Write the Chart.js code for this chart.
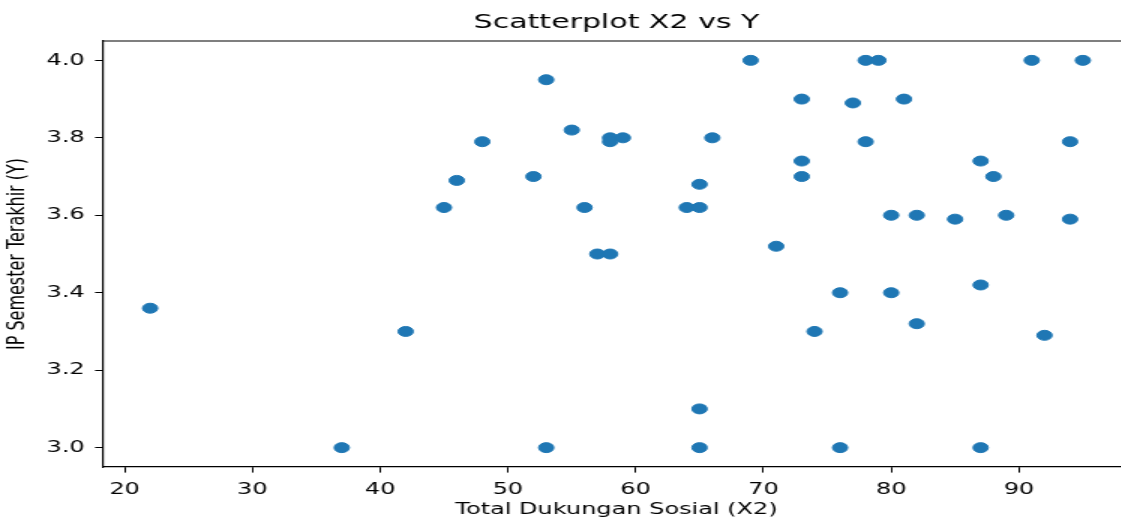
<!DOCTYPE html>
<html>
<head>
<meta charset="utf-8">
<script src="https://cdn.jsdelivr.net/npm/chart.js@4/dist/chart.umd.min.js"></script>
<style>
  html, body { margin: 0; padding: 0; background: #fff; overflow: hidden; width: 1121px; height: 520px; }
  #wrap { width: 759px; height: 520px; transform: scaleX(1.5); transform-origin: 0 0; }
  canvas { display: block; }
</style>
</head>
<body>
<div id="wrap"><canvas id="c" width="759" height="520"></canvas></div>
<script>
const xValues = [22,37,42,45,46,48,52,53,53,55,56,57,58,58,58,59,64,65,65,65,65,66,69,71,73,73,73,74,76,76,77,78,78,79,80,80,81,82,82,85,87,87,87,88,89,91,92,94,94,95];
const yValues = [3.36,3.00,3.30,3.62,3.69,3.79,3.70,3.95,3.00,3.82,3.62,3.50,3.50,3.80,3.79,3.80,3.62,3.62,3.68,3.10,3.00,3.80,4.00,3.52,3.90,3.74,3.70,3.30,3.40,3.00,3.89,4.00,3.79,4.00,3.60,3.40,3.90,3.60,3.32,3.59,3.74,3.42,3.00,3.70,3.60,4.00,3.29,3.79,3.59,4.00];
const xTicks = [20,30,40,50,60,70,80,90];
const yTicks = [3.0,3.2,3.4,3.6,3.8,4.0];
const titleText = 'Scatterplot X2 vs Y';
const xLabel = 'Total Dukungan Sosial (X2)';
const yLabel = 'IP Semester Terakhir (Y)';

// matplotlib-like 5% axis margins
function padRange(arr) {
  const lo = Math.min(...arr), hi = Math.max(...arr), m = (hi - lo) * 0.05;
  return [lo - m, hi + m];
}
const [xMin, xMax] = padRange(xValues);
const [yMin, yMax] = padRange(yValues);

const points = xValues.map((x, i) => ({ x: x, y: yValues[i] }));
const FONT = 'DejaVu Sans';

const frame = {
  id: 'frame',
  afterDraw(chart) {
    const { ctx, chartArea: a } = chart;
    ctx.save();
    ctx.strokeStyle = '#000';
    ctx.lineWidth = 1.2;
    ctx.beginPath();
    ctx.moveTo(a.left, a.top);
    ctx.lineTo(a.right, a.top);
    ctx.lineTo(a.right, a.bottom);
    ctx.stroke();
    ctx.restore();
  }
};

new Chart(document.getElementById('c'), {
  type: 'scatter',
  data: {
    datasets: [{
      data: points,
      backgroundColor: '#1f77b4',
      borderColor: '#1f77b4',
      borderWidth: 1,
      pointRadius: 5,
      pointHoverRadius: 5
    }]
  },
  options: {
    responsive: false,
    animation: false,
    devicePixelRatio: 1,
    layout: { padding: { left: 0, right: 3, top: 0, bottom: 0 } },
    plugins: {
      legend: { display: false },
      tooltip: { enabled: false },
      title: {
        display: true,
        text: titleText,
        fullSize: false,
        color: '#000',
        font: { family: FONT, size: 20, weight: 'normal' },
        padding: { top: 11, bottom: 6 }
      }
    },
    scales: {
      x: {
        type: 'linear',
        min: xMin,
        max: xMax,
        afterBuildTicks: s => { s.ticks = xTicks.map(v => ({ value: v })); },
        afterFit: s => { s.height = 53; },
        ticks: {
          color: '#000',
          font: { family: FONT, size: 16 },
          padding: 8,
          maxRotation: 0,
          autoSkip: false,
          callback: v => String(v)
        },
        grid: { display: true, drawOnChartArea: false, drawTicks: true, tickLength: 5.6, color: '#000', lineWidth: 1 },
        border: { display: true, color: '#000', width: 1.2 },
        title: {
          display: true,
          text: xLabel,
          color: '#000',
          font: { family: FONT, size: 16 },
          padding: { top: 0, bottom: 1 }
        }
      },
      y: {
        type: 'linear',
        min: yMin,
        max: yMax,
        afterBuildTicks: s => { s.ticks = yTicks.map(v => ({ value: v })); },
        afterFit: s => { s.width = 69; },
        ticks: {
          color: '#000',
          font: { family: FONT, size: 16 },
          padding: 7,
          autoSkip: false,
          callback: v => Number(v).toFixed(1)
        },
        grid: { display: true, drawOnChartArea: false, drawTicks: true, tickLength: 5.6, color: '#000', lineWidth: 1 },
        border: { display: true, color: '#000', width: 1.2 },
        title: {
          display: true,
          text: yLabel,
          color: '#000',
          font: { family: FONT, size: 16 },
          padding: { top: 2, bottom: 0 }
        }
      }
    }
  },
  plugins: [frame]
});
</script>
</body>
</html>
